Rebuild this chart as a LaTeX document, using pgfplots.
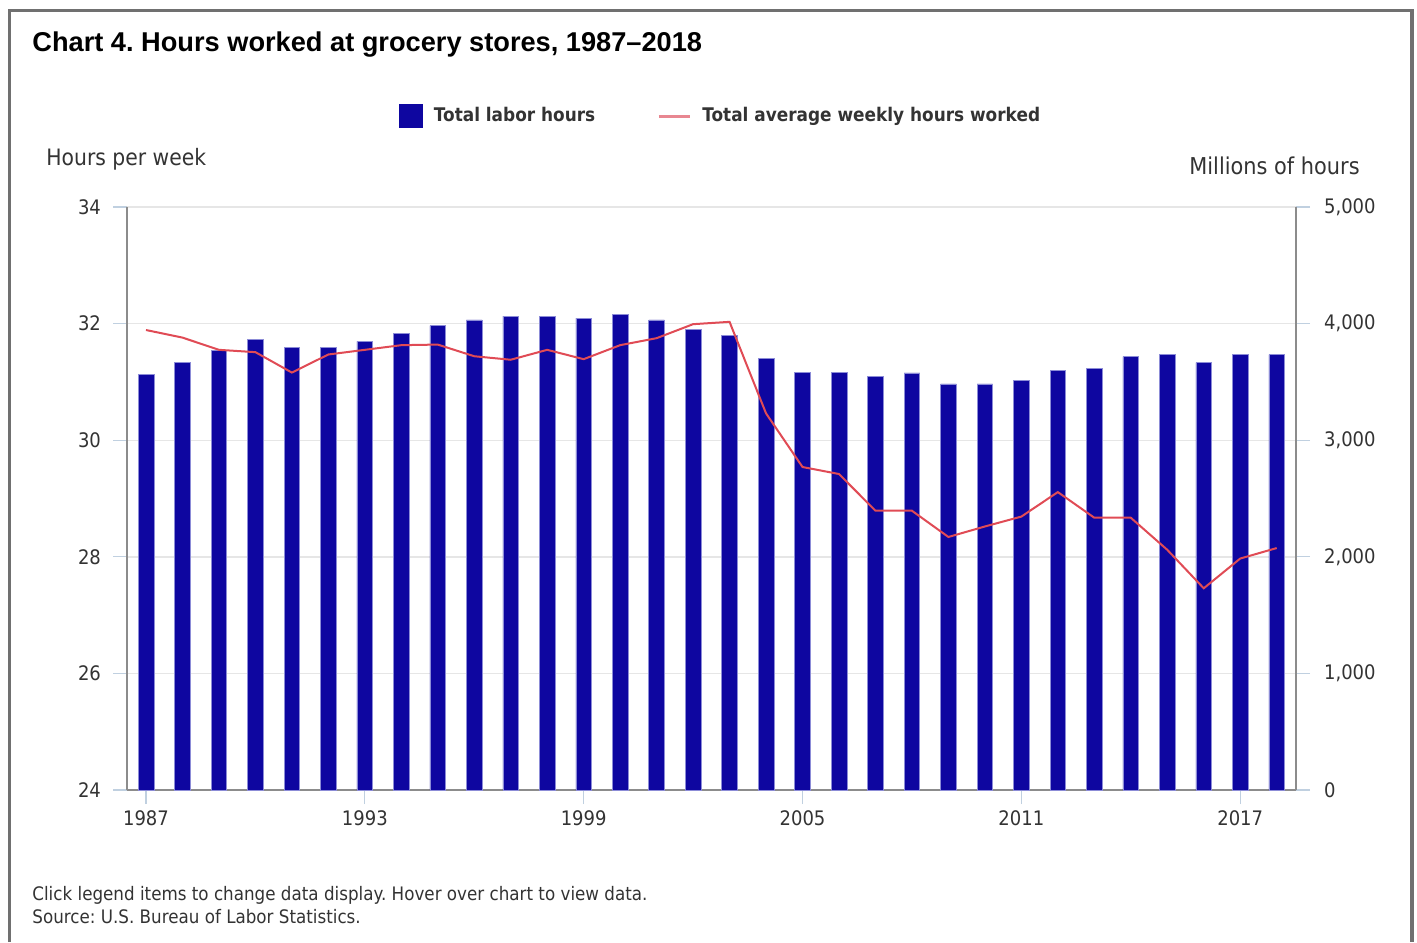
\documentclass[border=0pt]{standalone}
\usepackage{pgfplots}
\pgfplotsset{compat=1.18}
\usepackage{pgfplotstable}
\usepackage{fontspec}
\setmainfont{DejaVu Sans}[FakeStretch=0.9]
\newfontfamily\titlefont{Liberation Sans}
\frenchspacing

\definecolor{barblue}{RGB}{14,6,160}
\definecolor{baredge}{RGB}{140,140,215}
\definecolor{linered}{RGB}{224,75,85}
\definecolor{legred}{RGB}{232,135,145}
\definecolor{gridgray}{RGB}{230,230,230}
\definecolor{tickblue}{RGB}{192,208,224}
\definecolor{axisgray}{RGB}{140,140,140}
\definecolor{labelgray}{RGB}{51,51,51}
\definecolor{framegray}{RGB}{112,112,112}

% total labor hours, millions (right axis)
\pgfplotstableread{
year hours
1987 3565
1988 3668
1989 3768
1990 3865
1991 3797
1992 3797
1993 3848
1994 3917
1995 3982
1996 4031
1997 4065
1998 4065
1999 4048
2000 4082
2001 4031
2002 3948
2003 3896
2004 3699
2005 3582
2006 3582
2007 3548
2008 3578
2009 3482
2010 3482
2011 3514
2012 3600
2013 3613
2014 3716
2015 3733
2016 3665
2017 3733
2018 3733
}\laborhours

% average weekly hours (left axis)
\pgfplotstableread{
year avg
1987 31.89
1988 31.76
1989 31.55
1990 31.51
1991 31.16
1992 31.47
1993 31.55
1994 31.63
1995 31.64
1996 31.44
1997 31.38
1998 31.55
1999 31.39
2000 31.63
2001 31.75
2002 31.99
2003 32.03
2004 30.46
2005 29.54
2006 29.42
2007 28.79
2008 28.79
2009 28.34
2010 28.52
2011 28.69
2012 29.11
2013 28.67
2014 28.67
2015 28.12
2016 27.46
2017 27.97
2018 28.15
}\weeklyhours

\pgfplotsset{
  common/.style={
    at={(63.5pt,76pt)}, anchor=south west,
    scale only axis, width=584.5pt, height=291.5pt,
    xmin=1986.48, xmax=2018.53,
    tick align=outside, major tick length=7pt,
    tick style={draw=tickblue, line width=0.6pt},
    axis line style={-, draw=axisgray, line width=0.8pt},
    /pgf/number format/assume math mode=true,
    tick label style={font=\fontsize{10}{12}\selectfont, text=labelgray},
  }
}

\begin{document}
\begin{tikzpicture}
\useasboundingbox (0,0) rectangle (708.5pt,471pt);

% frame
\draw[framegray, line width=1.6pt] (4.75pt,0) -- (4.75pt,465.75pt) -- (706pt,465.75pt) -- (706pt,0);

\begin{axis}[common,
  ymin=0, ymax=5000,
  axis x line*=bottom, axis y line*=right,
  xtick={1987,1993,...,2017},
  xticklabel style={/pgf/number format/1000 sep={}},
  ytick={0,1000,...,5000},
  yticklabel style={/pgf/number format/1000 sep={,}, xshift=3.5pt},
  ymajorgrids, grid style={draw=gridgray, line width=0.7pt},
  ybar, bar width=0.43, bar shift=0pt,
]
\addplot[fill=barblue, draw=baredge, line width=0.3pt] table[x=year, y=hours] {\laborhours};
\end{axis}

\begin{axis}[common,
  ymin=24, ymax=34,
  axis x line=none, axis y line*=left,
  ytick={24,26,...,34},
  yticklabel style={xshift=-2.5pt},
  legend style={at={(0.5086,1.156)}, anchor=center, draw=none, fill=none,
    font=\fontsize{9.4}{11}\selectfont\bfseries, text=labelgray,
    legend columns=2,
    /tikz/every odd column/.append style={column sep=3.5pt},
    /tikz/every even column/.append style={column sep=29pt}},
  legend cell align=left,
]
\addlegendimage{legend image code/.code={\fill[barblue] (0pt,-5.75pt) rectangle (11.5pt,5.75pt);}}
\addlegendentry{Total labor hours}
\addplot[linered, line width=1pt, mark=none,
  legend image code/.code={\draw[legred, line width=1.5pt] (0pt,0pt) -- (15.5pt,0pt);}]
  table[x=year, y=avg] {\weeklyhours};
\addlegendentry{Total average weekly hours worked}
\end{axis}

% titles and labels
\node[anchor=base west, inner sep=0pt] at (16pt,445pt)
  {\titlefont\bfseries\fontsize{13.6}{16}\selectfont Chart 4. Hours worked at grocery stores, 1987–2018};
\node[anchor=base west, inner sep=0pt, text=labelgray] at (23pt,388pt)
  {\fontsize{11.3}{13}\selectfont Hours per week};
\node[anchor=base east, inner sep=0pt, text=labelgray] at (680pt,383.5pt)
  {\fontsize{11.6}{13}\selectfont Millions of hours};
\node[anchor=base west, inner sep=0pt, text=labelgray] at (16pt,21pt)
  {\fontsize{9.3}{11}\selectfont Click legend items to change data display. Hover over chart to view data.};
\node[anchor=base west, inner sep=0pt, text=labelgray] at (16pt,9.5pt)
  {\fontsize{9.3}{11}\selectfont Source: U.S. Bureau of Labor Statistics.};
\end{tikzpicture}
\end{document}
